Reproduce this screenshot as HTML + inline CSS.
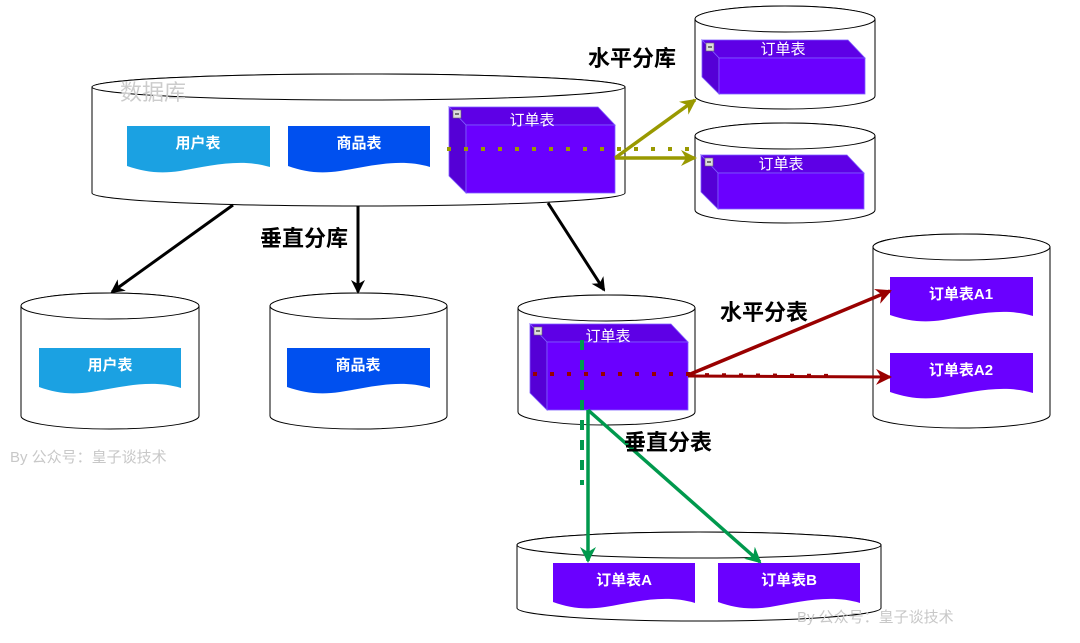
<!DOCTYPE html>
<html><head><meta charset="utf-8"><style>
html,body{margin:0;padding:0;background:#fff;}
svg{display:block;font-family:"Liberation Sans","Noto Sans CJK SC",sans-serif;}
</style></head><body>
<svg width="1080" height="643" viewBox="0 0 1080 643" xmlns="http://www.w3.org/2000/svg">
<defs>
<marker id="ak" markerWidth="14" markerHeight="14" refX="12" refY="7" orient="auto" markerUnits="userSpaceOnUse" viewBox="0 0 14 14"><path d="M0,0 L14,7 L0,14 L4,7 Z" fill="#000"/></marker>
<marker id="ao" markerWidth="16" markerHeight="16" refX="14" refY="8" orient="auto" markerUnits="userSpaceOnUse" viewBox="0 0 16 16"><path d="M0,0 L16,8 L0,16 L5,8 Z" fill="#999900"/></marker>
<marker id="ar" markerWidth="16" markerHeight="16" refX="14" refY="8" orient="auto" markerUnits="userSpaceOnUse" viewBox="0 0 16 16"><path d="M0,0 L16,8 L0,16 L5,8 Z" fill="#990000"/></marker>
<marker id="ag" markerWidth="16" markerHeight="16" refX="14" refY="8" orient="auto" markerUnits="userSpaceOnUse" viewBox="0 0 16 16"><path d="M0,0 L16,8 L0,16 L5,8 Z" fill="#00994d"/></marker>
</defs>
<g fill="#fff" stroke="#000" stroke-width="1">
<path d="M92,87 A266.5,13 0 0 1 625,87 V193 A266.5,13 0 0 1 92,193 Z"/><ellipse cx="358.5" cy="87" rx="266.5" ry="13"/>
<path d="M695,19 A90,13 0 0 1 875,19 V96 A90,13 0 0 1 695,96 Z"/><ellipse cx="785" cy="19" rx="90" ry="13"/>
<path d="M695,136 A90,13 0 0 1 875,136 V210 A90,13 0 0 1 695,210 Z"/><ellipse cx="785" cy="136" rx="90" ry="13"/>
<path d="M21,306 A89,13 0 0 1 199,306 V416 A89,13 0 0 1 21,416 Z"/><ellipse cx="110" cy="306" rx="89" ry="13"/>
<path d="M270,306 A88.5,13 0 0 1 447,306 V416 A88.5,13 0 0 1 270,416 Z"/><ellipse cx="358.5" cy="306" rx="88.5" ry="13"/>
<path d="M518,308 A88.5,13 0 0 1 695,308 V412 A88.5,13 0 0 1 518,412 Z"/><ellipse cx="606.5" cy="308" rx="88.5" ry="13"/>
<path d="M873,247 A88.5,13 0 0 1 1050,247 V415 A88.5,13 0 0 1 873,415 Z"/><ellipse cx="961.5" cy="247" rx="88.5" ry="13"/>
<path d="M517,545 A182,13 0 0 1 881,545 V608 A182,13 0 0 1 517,608 Z"/><ellipse cx="699" cy="545" rx="182" ry="13"/>
</g>
<text x="120" y="100" font-size="22" fill="#cccccc">数据库</text>
<g stroke="none">
<path d="M127,126 H270 V167 C240,158 210,166 180,171 C160,174 145,172 127,166 Z" fill="#1ba1e2"/>
<path d="M288,126 H430 V167 C400,158 370,166 340,171 C320,174 305,172 288,166 Z" fill="#0050ef"/>
<path d="M39,348 H181 V388 C151,379 121,387 91,392 C71,395 56,393 39,387 Z" fill="#1ba1e2"/>
<path d="M287,348 H430 V388 C400,379 370,387 340,392 C320,395 305,393 287,387 Z" fill="#0050ef"/>
<path d="M890,277 H1033 V316 C1003,307 973,315 943,320 C923,323 908,321 890,315 Z" fill="#6a00ff"/>
<path d="M890,353 H1033 V393 C1003,384 973,392 943,397 C923,400 908,398 890,392 Z" fill="#6a00ff"/>
<path d="M553,563 H695 V603 C665,594 635,602 605,607 C585,610 570,608 553,602 Z" fill="#6a00ff"/>
<path d="M718,563 H860 V603 C830,594 800,602 770,607 C750,610 735,608 718,602 Z" fill="#6a00ff"/>
</g>
<g fill="#fff" font-size="15" font-weight="bold" text-anchor="middle">
<text x="198" y="148">用户表</text><text x="359" y="148">商品表</text>
<text x="110" y="370">用户表</text><text x="358" y="370">商品表</text>
<text x="961" y="299">订单表A1</text><text x="961" y="375">订单表A2</text>
<text x="624" y="585">订单表A</text><text x="789" y="585">订单表B</text>
</g>
<g stroke="#7f5fff" stroke-width="0.8">
<polygon points="449,107 598,107 615,125 466,125" fill="#5e00e6"/><polygon points="449,107 466,125 466,193 449,176" fill="#5500d6"/><rect x="466" y="125" width="149" height="68" fill="#6a00ff"/>
<polygon points="702,40 848,40 865,58 719,58" fill="#5e00e6"/><polygon points="702,40 719,58 719,94 702,77" fill="#5500d6"/><rect x="719" y="58" width="146" height="36" fill="#6a00ff"/>
<polygon points="701,155 847,155 864,173 718,173" fill="#5e00e6"/><polygon points="701,155 718,173 718,209 701,192" fill="#5500d6"/><rect x="718" y="173" width="146" height="36" fill="#6a00ff"/>
<polygon points="530,324 671,324 688,342 547,342" fill="#5e00e6"/><polygon points="530,324 547,342 547,410 530,393" fill="#5500d6"/><rect x="547" y="342" width="141" height="68" fill="#6a00ff"/>
</g>
<g fill="#ddd" stroke="#666" stroke-width="0.6">
<rect x="453" y="110" width="8" height="8"/><rect x="706" y="43" width="8" height="8"/><rect x="705" y="158" width="8" height="8"/><rect x="534" y="327" width="8" height="8"/>
</g>
<g stroke="#333" stroke-width="1.2"><path d="M455,114 h4 M708,47 h4 M707,162 h4 M536,331 h4"/></g>
<g fill="#fff" font-size="15" text-anchor="middle">
<text x="532" y="125">订单表</text><text x="783" y="54">订单表</text><text x="781" y="169">订单表</text><text x="608" y="341">订单表</text>
</g>
<g stroke="#000" stroke-width="3" fill="none">
<line x1="233" y1="205" x2="112" y2="292" marker-end="url(#ak)"/>
<line x1="358" y1="206" x2="358" y2="292" marker-end="url(#ak)"/>
<line x1="548" y1="203" x2="604" y2="290" marker-end="url(#ak)"/>
</g>
<line x1="447" y1="149" x2="690" y2="149" stroke="#999900" stroke-width="4" stroke-dasharray="4,13"/>
<g stroke="#999900" stroke-width="3.5" fill="none">
<line x1="615" y1="158" x2="695" y2="100" marker-end="url(#ao)"/>
<line x1="615" y1="158" x2="695" y2="158" marker-end="url(#ao)"/>
</g>
<line x1="533" y1="374" x2="690" y2="374" stroke="#990000" stroke-width="4" stroke-dasharray="4,13"/>
<g stroke="#990000" fill="none">
<line x1="688" y1="375" x2="890" y2="291" marker-end="url(#ar)" stroke-width="3.5"/>
<line x1="688" y1="375" x2="840" y2="376" stroke-dasharray="4,13" stroke-width="4"/>
<line x1="688" y1="376" x2="890" y2="377" marker-end="url(#ar)" stroke-width="3"/>
</g>
<line x1="582" y1="340" x2="582" y2="485" stroke="#00994d" stroke-width="4" stroke-dasharray="10,10"/>
<g stroke="#00994d" stroke-width="3.5" fill="none">
<line x1="588" y1="410" x2="588" y2="561" marker-end="url(#ag)"/>
<line x1="588" y1="410" x2="760" y2="562" marker-end="url(#ag)"/>
</g>
<g font-size="22" font-weight="bold" fill="#000">
<text x="588" y="66">水平分库</text>
<text x="260" y="246">垂直分库</text>
<text x="720" y="320">水平分表</text>
<text x="624" y="450">垂直分表</text>
</g>
<g font-size="15" fill="#c8c8c8">
<text x="10" y="462">By 公众号：皇子谈技术</text>
<text x="797" y="622">By 公众号：皇子谈技术</text>
</g>
</svg>
</body></html>
